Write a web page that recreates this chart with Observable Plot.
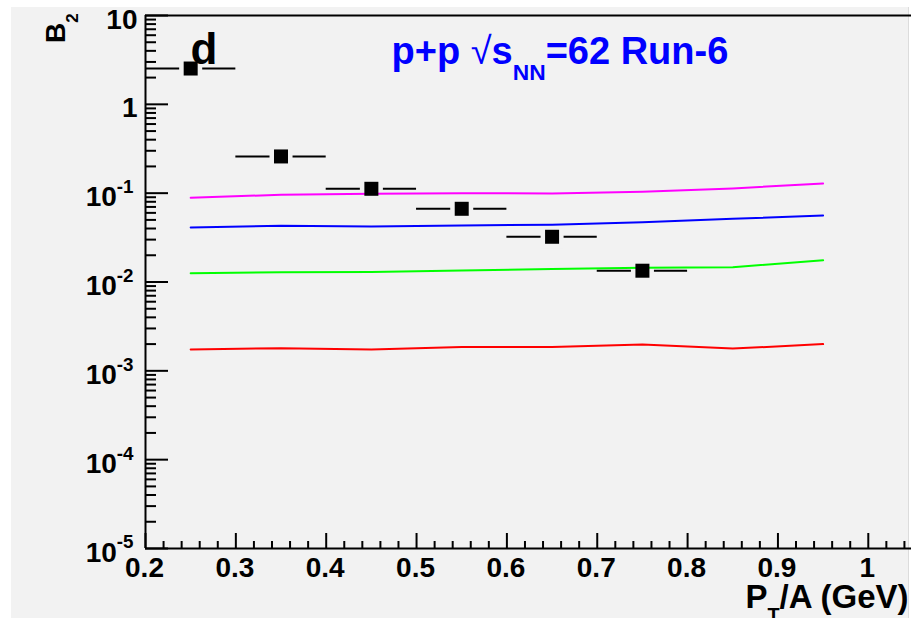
<!DOCTYPE html>
<html>
<head>
<meta charset="utf-8">
<script src="https://cdn.jsdelivr.net/npm/d3@7"></script>
<script src="https://cdn.jsdelivr.net/npm/@observablehq/plot@0.6"></script>
<style>
  html, body { margin: 0; padding: 0; background: #fff; overflow: hidden; }
  #wrap { position: relative; width: 911px; height: 618px; overflow: hidden; }
  #pad { position: absolute; left: 11px; top: 7px; width: 897px; height: 611px; background: #f2f2f2; border-right: 1px solid #dcdcdc; }
  #chart { position: absolute; left: 0; top: 0; }
</style>
</head>
<body>
<div id="wrap"><div id="pad"></div><div id="chart"></div></div>
<script>
// Deuteron coalescence parameter B2 vs pT per nucleon, p+p at 62 GeV (Run-6)
const ptBins = [0.25, 0.35, 0.45, 0.55, 0.65, 0.75];
const ptHalfWidth = [0.05, 0.05, 0.05, 0.05, 0.05, 0.05];
const b2Deuteron = [2.53, 0.259, 0.112, 0.0667, 0.0323, 0.0134];

// Model curves sampled at these pT/A values
const modelPt = [0.25, 0.35, 0.45, 0.55, 0.65, 0.75, 0.85, 0.95];
const modelMagenta = [0.0887, 0.0959, 0.0985, 0.100, 0.0991, 0.1037, 0.113, 0.1285];
const modelBlue = [0.0411, 0.0430, 0.0422, 0.0433, 0.0441, 0.0471, 0.0515, 0.0561];
const modelGreen = [0.01256, 0.01289, 0.0130, 0.01349, 0.0140, 0.01445, 0.0147, 0.0176];
const modelRed = [0.00174, 0.00180, 0.00174, 0.00185, 0.00185, 0.00198, 0.00178, 0.00200];

// Axis ticks and labels
const yMajor = [1e-5, 1e-4, 1e-3, 1e-2, 1e-1, 1, 10];
const yLabels = ["10^{-5}", "10^{-4}", "10^{-3}", "10^{-2}", "10^{-1}", "1", "10"];
const xMajor = [0.2, 0.3, 0.4, 0.5, 0.6, 0.7, 0.8, 0.9, 1.0];
const xLabels = ["0.2", "0.3", "0.4", "0.5", "0.6", "0.7", "0.8", "0.9", "1"];

const titleText = "p+p \u221As_{NN}=62 Run-6";
const xTitle = "P_{T}/A (GeV)";
const yTitle = "B_{2}";
const particleLabel = "d";

// Layout: the frame runs on past the right edge of the page
const W = 922, H = 618, ML = 145, MT = 15, MB = 70, MR = 0;
const frameW = W - ML - MR, frameH = H - MT - MB;
const xDomain = [0.2, 1.06], yDomain = [1e-5, 10];
const font = "'Liberation Sans', Arial, Helvetica, sans-serif";

const points = ptBins.map((x, i) => ({x, ex: ptHalfWidth[i], y: b2Deuteron[i]}));
const curve = vals => modelPt.map((x, i) => ({x, y: vals[i]}));

const yMinor = [];
for (let e = -5; e <= 0; e++) for (let k = 2; k <= 9; k++) yMinor.push(k * Math.pow(10, e));
const xMinor = d3.range(0, 43).map(i => +(0.2 + 0.02 * i).toFixed(2)).filter(v => Math.round(v * 100) % 10 !== 0);

const yTicks = yMajor.map((v, i) => ({v, label: yLabels[i]}));
const yTicksPlain = yTicks.filter(d => !d.label.includes("^"));
const yTicksPow = yTicks.filter(d => d.label.includes("^"));
const xTicks = xMajor.map((v, i) => ({v, label: xLabels[i]}));

const svg = Plot.plot({
  width: W, height: H,
  marginLeft: ML, marginTop: MT, marginBottom: MB, marginRight: MR,
  style: `background: transparent; max-width: none; overflow: visible; font-family: ${font};`,
  x: {domain: xDomain, axis: null},
  y: {type: "log", domain: yDomain, axis: null},
  marks: [
    // tick marks drawn inward from the axes
    Plot.tickY(yMinor, {y: d => d, insetRight: frameW - 11, stroke: "black", strokeWidth: 2}),
    Plot.tickY(yMajor, {y: d => d, insetRight: frameW - 23, stroke: "black", strokeWidth: 2}),
    Plot.tickX(xMinor, {x: d => d, insetTop: frameH - 7, stroke: "black", strokeWidth: 2}),
    Plot.tickX(xMajor, {x: d => d, insetTop: frameH - 15, stroke: "black", strokeWidth: 2}),

    // left, bottom and top edges of the frame
    Plot.ruleX([xDomain[0]], {x: d => d, stroke: "black", strokeWidth: 2}),
    Plot.ruleY(yDomain, {y: d => d, stroke: "black", strokeWidth: 2}),

    // horizontal bin-width bars, with a gap cut around each marker
    Plot.ruleY(points, {y: "y", x1: d => d.x - d.ex, x2: d => d.x + d.ex, stroke: "black", strokeWidth: 2}),
    Plot.dot(points, {x: "x", y: "y", symbol: "square", r: 13, fill: "#f2f2f2", stroke: null}),

    // model curves
    Plot.line(curve(modelMagenta), {x: "x", y: "y", stroke: "#ff00ff", strokeWidth: 2}),
    Plot.line(curve(modelBlue), {x: "x", y: "y", stroke: "#0000ff", strokeWidth: 2}),
    Plot.line(curve(modelGreen), {x: "x", y: "y", stroke: "#00ff00", strokeWidth: 2}),
    Plot.line(curve(modelRed), {x: "x", y: "y", stroke: "#ff0000", strokeWidth: 2}),

    // measured points
    Plot.dot(points, {x: "x", y: "y", symbol: "square", r: 7.9, fill: "black", stroke: null}),

    // tick labels
    Plot.text(yTicksPlain, {y: "v", text: "label", frameAnchor: "left", textAnchor: "end", lineAnchor: "bottom",
      dx: -8, dy: 13, fontSize: 28, fontWeight: "bold", fontFamily: font, fill: "black"}),
    Plot.text(yTicksPow, {y: "v", text: "label", frameAnchor: "left", textAnchor: "end", lineAnchor: "bottom",
      dx: -12, dy: 13, fontSize: 28, fontWeight: "bold", fontFamily: font, fill: "black"}),
    Plot.text(xTicks, {x: "v", text: "label", frameAnchor: "bottom", textAnchor: "middle", lineAnchor: "top",
      dx: -1, dy: 9, fontSize: 28, fontWeight: "bold", fontFamily: font, fill: "black"}),

    // axis titles
    Plot.text([yTitle], {text: d => d, frameAnchor: "top-left", rotate: -90, textAnchor: "end", lineAnchor: "middle",
      dx: -89, dy: -2, fontSize: 28, fontWeight: "bold", fontFamily: font, fill: "black"}),
    Plot.text([xTitle], {text: d => d, frameAnchor: "bottom-right", textAnchor: "end", lineAnchor: "bottom",
      dx: -14, dy: 59, fontSize: 33, fontWeight: "bold", fontFamily: font, fill: "black"}),

    // in-frame labels
    Plot.text([particleLabel], {text: d => d, frameAnchor: "top-left", textAnchor: "start", lineAnchor: "bottom",
      dx: 45, dy: 48, fontSize: 44, fontWeight: "bold", fontFamily: font, fill: "black"}),
    Plot.text([titleText], {text: d => d, frameAnchor: "top-left", textAnchor: "start", lineAnchor: "bottom",
      dx: 246, dy: 48, fontSize: 38, fontWeight: "bold", fontFamily: font, fill: "#0000ff"})
  ]
});

document.getElementById("chart").appendChild(svg);

// Turn ^{..} / _{..} markup into raised / lowered tspans
const SVGNS = "http://www.w3.org/2000/svg";
function richText(el) {
  const raw = el.textContent;
  if (!/[_^]\{|\u221A/.test(raw)) return;
  const base = parseFloat(getComputedStyle(el).fontSize);
  const parts = [];
  const re = /([_^])\{([^}]*)\}/g;
  let last = 0, m;
  while ((m = re.exec(raw))) {
    if (m.index > last) parts.push({t: raw.slice(last, m.index), kind: "n"});
    parts.push({t: m[2], kind: m[1] === "^" ? "sup" : "sub"});
    last = re.lastIndex;
  }
  if (last < raw.length) parts.push({t: raw.slice(last), kind: "n"});
  el.textContent = "";
  let shift = 0;
  for (const p of parts) {
    const target = p.kind === "sup" ? -0.47 * base : p.kind === "sub" ? 0.43 * base : 0;
    const pieces = p.kind === "n" ? p.t.split(/(\u221A)/).filter(s => s) : [p.t];
    pieces.forEach((s, j) => {
      const ts = document.createElementNS(SVGNS, "tspan");
      if (j === 0) { ts.setAttribute("dy", (target - shift).toFixed(2)); shift = target; }
      if (p.kind === "sup") ts.setAttribute("font-size", (base * 0.67).toFixed(1));
      if (p.kind === "sub") ts.setAttribute("font-size", (base * 0.6).toFixed(1));
      if (s === "\u221A") ts.setAttribute("font-weight", "normal");
      ts.textContent = s;
      el.appendChild(ts);
    });
  }
}
svg.querySelectorAll("text").forEach(richText);
</script>
</body>
</html>
